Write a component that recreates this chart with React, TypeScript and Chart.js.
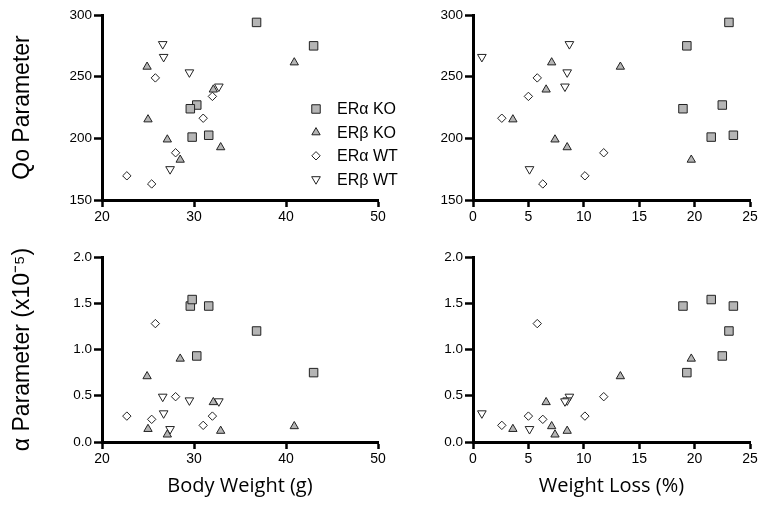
import React, { useEffect, useRef } from 'react';
import { Chart, registerables } from 'chart.js';
import * as helpers from 'chart.js/helpers';

Chart.register(...registerables);

// ---------- data ----------
const groupLabels = ['ERα KO', 'ERβ KO', 'ERα WT', 'ERβ WT'];

const erAlphaKO_bodyWeight = [36.8, 43.0, 30.3, 29.6, 29.8, 31.6];
const erAlphaKO_weightLoss = [23.1, 19.3, 22.5, 18.95, 21.5, 23.5];
const erAlphaKO_qo = [294, 275, 227, 224, 201, 202.5];
const erAlphaKO_alpha = [1.2, 0.75, 0.93, 1.47, 1.54, 1.47];

const erBetaKO_bodyWeight = [24.9, 40.9, 32.1, 25.0, 27.1, 32.9, 28.5];
const erBetaKO_weightLoss = [13.3, 7.1, 6.6, 3.6, 7.4, 8.5, 19.7];
const erBetaKO_qo = [258, 261.5, 239.5, 215.3, 199, 192.7, 182.6];
const erBetaKO_alpha = [0.71, 0.17, 0.43, 0.14, 0.08, 0.12, 0.9];

const erAlphaWT_bodyWeight = [25.8, 32.0, 31.0, 28.0, 25.4, 22.7];
const erAlphaWT_weightLoss = [5.8, 5.0, 2.6, 11.8, 6.3, 10.1];
const erAlphaWT_qo = [249, 234, 216.3, 188.3, 163, 169.6];
const erAlphaWT_alpha = [1.28, 0.28, 0.18, 0.49, 0.245, 0.28];

const erBetaWT_bodyWeight = [26.6, 26.7, 29.5, 32.7, 27.4];
const erBetaWT_weightLoss = [8.7, 0.8, 8.5, 8.3, 5.1];
const erBetaWT_qo = [276.4, 266, 253.5, 242, 175];
const erBetaWT_alpha = [0.49, 0.31, 0.45, 0.44, 0.14];

const bodyWeightTicks = [20, 30, 40, 50];
const weightLossTicks = [0, 5, 10, 15, 20, 25];
const qoTicks = [150, 200, 250, 300];
const alphaTicks = [0, 0.5, 1, 1.5, 2];
const alphaTickLabels = ['0.0', '0.5', '1.0', '1.5', '2.0'];

const bodyWeightByGroup = [erAlphaKO_bodyWeight, erBetaKO_bodyWeight, erAlphaWT_bodyWeight, erBetaWT_bodyWeight];
const weightLossByGroup = [erAlphaKO_weightLoss, erBetaKO_weightLoss, erAlphaWT_weightLoss, erBetaWT_weightLoss];
const qoByGroup = [erAlphaKO_qo, erBetaKO_qo, erAlphaWT_qo, erBetaWT_qo];
const alphaByGroup = [erAlphaKO_alpha, erBetaKO_alpha, erAlphaWT_alpha, erBetaWT_alpha];

// ---------- styles ----------
const groupStyles = [
  { pointStyle: 'rect', radius: 6, rotation: 0, bg: '#b5b5b5' },
  { pointStyle: 'triangle', radius: 4.8, rotation: 0, bg: '#b5b5b5' },
  { pointStyle: 'rectRot', radius: 4.2, rotation: 0, bg: '#ffffff' },
  { pointStyle: 'triangle', radius: 5, rotation: 180, bg: '#ffffff' },
];

const ARIAL = '"Liberation Sans", Arial, Helvetica, sans-serif';
const HUMANIST = '"Open Sans", "Noto Sans", sans-serif';

const legendPlugin = {
  id: 'insideLegend',
  afterDatasetsDraw(chart: any) {
    const { ctx, chartArea } = chart;
    const x0 = chartArea.right - 62;
    const y0 = chartArea.top + 94;
    chart.data.datasets.forEach((ds: any, i: number) => {
      const y = y0 + i * 23.4;
      ctx.save();
      ctx.fillStyle = ds.pointBackgroundColor;
      ctx.strokeStyle = ds.pointBorderColor;
      ctx.lineWidth = ds.pointBorderWidth;
      helpers.drawPoint(
        ctx,
        { pointStyle: ds.pointStyle, rotation: ds.pointRotation, radius: ds.pointRadius, borderWidth: ds.pointBorderWidth },
        x0,
        y
      );
      ctx.fillStyle = '#000';
      ctx.font = `16px ${ARIAL}`;
      ctx.textAlign = 'left';
      ctx.textBaseline = 'middle';
      ctx.fillText(ds.label, x0 + 21, y + 1);
      ctx.restore();
    });
  },
};

type Panel = {
  key: string;
  left: number;
  top: number;
  width: number;
  height: number;
  xs: number[][];
  ys: number[][];
  xMin: number;
  xMax: number;
  xTicks: number[];
  yMin: number;
  yMax: number;
  yTicks: number[];
  yTickLabels?: string[];
  yTitle?: string;
  xTitle?: string;
  padding: { left: number; top: number; right: number; bottom: number };
  yAxisWidth: number;
  xAxisHeight: number;
  legend?: boolean;
};

const panels: Panel[] = [
  {
    key: 'tl', left: 0, top: 0, width: 430, height: 256,
    xs: bodyWeightByGroup, ys: qoByGroup,
    xMin: 20, xMax: 50, xTicks: bodyWeightTicks,
    yMin: 150, yMax: 300, yTicks: qoTicks,
    yTitle: 'Qo Parameter',
    padding: { left: 0, top: 15, right: 52, bottom: 0 },
    yAxisWidth: 102, xAxisHeight: 56, legend: true,
  },
  {
    key: 'tr', left: 384, top: 0, width: 384, height: 256,
    xs: weightLossByGroup, ys: qoByGroup,
    xMin: 0, xMax: 25, xTicks: weightLossTicks,
    yMin: 150, yMax: 300, yTicks: qoTicks,
    padding: { left: 0, top: 15, right: 18, bottom: 0 },
    yAxisWidth: 89, xAxisHeight: 56,
  },
  {
    key: 'bl', left: 0, top: 236, width: 430, height: 276,
    xs: bodyWeightByGroup, ys: alphaByGroup,
    xMin: 20, xMax: 50, xTicks: bodyWeightTicks,
    yMin: 0, yMax: 2, yTicks: alphaTicks, yTickLabels: alphaTickLabels,
    yTitle: 'α Parameter (x10⁻⁵)', xTitle: 'Body Weight (g)',
    padding: { left: 0, top: 21, right: 52, bottom: 0 },
    yAxisWidth: 102, xAxisHeight: 70,
  },
  {
    key: 'br', left: 384, top: 236, width: 384, height: 276,
    xs: weightLossByGroup, ys: alphaByGroup,
    xMin: 0, xMax: 25, xTicks: weightLossTicks,
    yMin: 0, yMax: 2, yTicks: alphaTicks, yTickLabels: alphaTickLabels,
    xTitle: 'Weight Loss (%)',
    padding: { left: 0, top: 21, right: 18, bottom: 0 },
    yAxisWidth: 89, xAxisHeight: 70,
  },
];

function buildConfig(p: Panel): any {
  const datasets = groupLabels.map((label, gi) => {
    const st = groupStyles[gi];
    return {
      label,
      data: p.xs[gi].map((xv, i) => ({ x: xv, y: p.ys[gi][i] })),
      pointStyle: st.pointStyle,
      pointRadius: st.radius,
      pointHoverRadius: st.radius,
      pointRotation: st.rotation,
      pointBackgroundColor: st.bg,
      pointBorderColor: '#222222',
      pointBorderWidth: 1,
      showLine: false,
      clip: false,
    };
  });

  const grid = {
    drawOnChartArea: false,
    drawTicks: true,
    tickLength: 7,
    tickWidth: 2.5,
    tickColor: '#000',
  };
  const border = { display: true, color: '#000', width: 3 };

  return {
    type: 'scatter',
    data: { datasets },
    options: {
      responsive: false,
      maintainAspectRatio: false,
      animation: false,
      events: [],
      layout: { padding: p.padding },
      plugins: { legend: { display: false }, tooltip: { enabled: false }, title: { display: false } },
      scales: {
        x: {
          type: 'linear',
          position: 'bottom',
          min: p.xMin,
          max: p.xMax,
          afterBuildTicks: (s: any) => {
            s.ticks = p.xTicks.map((v) => ({ value: v }));
          },
          ticks: {
            color: '#000',
            font: { family: ARIAL, size: 14 },
            padding: 2,
            maxRotation: 0,
            autoSkip: false,
            callback: (v: any) => String(v),
          },
          grid,
          border,
          title: p.xTitle
            ? {
                display: true,
                text: p.xTitle,
                color: '#000',
                font: { family: HUMANIST, size: 20 },
                padding: { top: 0, bottom: 14 },
              }
            : { display: false },
          afterFit: (s: any) => {
            s.height = p.xAxisHeight;
          },
        },
        y: {
          type: 'linear',
          position: 'left',
          min: p.yMin,
          max: p.yMax,
          afterBuildTicks: (s: any) => {
            s.ticks = p.yTicks.map((v) => ({ value: v }));
          },
          ticks: {
            color: '#000',
            font: { family: ARIAL, size: 13.5 },
            padding: 2,
            autoSkip: false,
            callback: (v: any) => {
              if (p.yTickLabels) {
                const idx = p.yTicks.indexOf(v);
                return idx >= 0 ? p.yTickLabels[idx] : String(v);
              }
              return String(v);
            },
          },
          grid: { ...grid, tickLength: 8 },
          border,
          title: p.yTitle
            ? {
                display: true,
                text: p.yTitle,
                color: '#000',
                font: { family: ARIAL, size: 23 },
                padding: { top: 9, bottom: 0 },
              }
            : { display: false },
          afterFit: (s: any) => {
            s.width = p.yAxisWidth;
          },
        },
      },
    },
    plugins: p.legend ? [legendPlugin] : [],
  };
}

function PanelChart({ p }: { p: Panel }) {
  const ref = useRef<HTMLCanvasElement | null>(null);
  useEffect(() => {
    if (!ref.current) return;
    const chart = new Chart(ref.current, buildConfig(p));
    return () => chart.destroy();
  }, [p]);
  return (
    <canvas
      ref={ref}
      width={p.width}
      height={p.height}
      style={{
        position: 'absolute',
        left: p.left,
        top: p.top,
        width: p.width,
        height: p.height,
        display: 'block',
      }}
    />
  );
}

export default function App() {
  return (
    <div
      style={{
        position: 'absolute',
        left: 0,
        top: 0,
        width: 768,
        height: 512,
        background: '#ffffff',
        overflow: 'hidden',
      }}
    >
      {panels.map((p) => (
        <PanelChart key={p.key} p={p} />
      ))}
    </div>
  );
}
